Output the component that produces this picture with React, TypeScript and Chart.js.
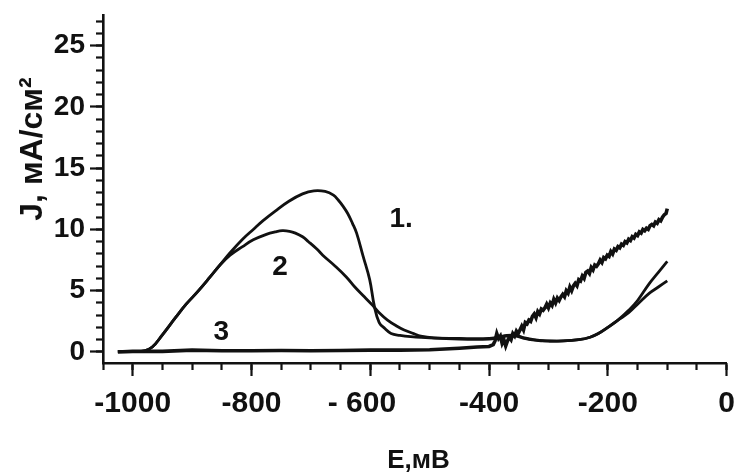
import React, { useEffect, useRef } from 'react';
import { Chart, registerables } from 'chart.js';

Chart.register(...registerables);

// Curve 1
const curve1X = [-1025, -1000, -980, -967, -950, -928, -910, -891, -870, -853, -836, -815, -797, -781, -760, -737, -714, -695, -676, -662, -654, -646, -638, -630, -623, -612, -601, -593, -585, -575, -565, -550, -532, -500, -450, -400, -385, -370, -355, -344, -325, -306, -275, -249, -230, -216, -200, -183, -165, -150, -130, -115, -100];
const curve1Y = [0.05, 0.05, 0.1, 0.4, 1.4, 2.8, 3.9, 4.9, 6.1, 7.1, 8.1, 9.2, 10.0, 10.7, 11.5, 12.3, 12.9, 13.15, 13.1, 12.8, 12.4, 11.9, 11.3, 10.5, 9.7, 7.8, 5.9, 3.7, 2.4, 1.9, 1.5, 1.35, 1.25, 1.15, 1.1, 1.1, 1.2, 1.35, 1.35, 1.2, 1.0, 0.9, 0.9, 1.0, 1.2, 1.5, 2.0, 2.6, 3.4, 4.2, 5.6, 6.5, 7.4];

// Curve 2
const curve2X = [-1025, -1000, -980, -967, -950, -928, -910, -891, -870, -853, -836, -815, -797, -775, -760, -748, -736, -726, -714, -704, -690, -680, -659, -640, -626, -610, -596, -585, -571, -555, -543, -527, -515, -493, -450, -400, -385, -370, -355, -344, -320, -300, -275, -249, -230, -216, -200, -183, -165, -150, -130, -115, -100];
const curve2Y = [0.05, 0.05, 0.1, 0.4, 1.4, 2.8, 3.9, 4.9, 6.1, 7.1, 7.9, 8.6, 9.15, 9.6, 9.8, 9.9, 9.85, 9.7, 9.4, 9.0, 8.4, 7.9, 7.0, 6.1, 5.3, 4.5, 3.8, 3.2, 2.6, 2.1, 1.8, 1.5, 1.3, 1.15, 1.05, 1.05, 1.15, 1.3, 1.3, 1.15, 0.95, 0.9, 0.9, 1.0, 1.2, 1.5, 2.0, 2.6, 3.2, 3.9, 4.8, 5.3, 5.8];

// Curve 3 (flat, then noisy rise)
const curve3X = [-1025, -1000, -950, -900, -850, -800, -750, -700, -650, -600, -550, -500, -450, -420, -400, -393,
  -390, -387, -384, -381, -378, -375, -372, -369, -366, -363, -360, -357, -354, -351, -348, -345, -342, -339, -336, -333,
  -330, -327, -324, -321, -318, -315, -312, -309, -306, -303, -300, -297, -294, -291, -288, -285, -282, -279, -276, -273,
  -270, -267, -264, -261, -258, -255, -252, -249, -246, -243, -240, -237, -234, -231, -228, -225, -222, -219, -216, -213,
  -210, -207, -204, -201, -198, -195, -192, -189, -186, -183, -180, -177, -174, -171, -168, -165, -162, -159, -156, -153,
  -150, -147, -144, -141, -138, -135, -132, -129, -126, -123, -120, -117, -114, -111, -108, -105, -102, -100];
const curve3Y = [0.0, 0.05, 0.05, 0.15, 0.1, 0.1, 0.12, 0.1, 0.12, 0.15, 0.15, 0.18, 0.3, 0.4, 0.45, 0.6,
  0.9, 1.5, 1.1, 1.3, 0.7, 1.0, 0.5, 0.9, 1.2, 1.0, 1.5, 1.3, 1.7, 1.5, 1.8, 2.1, 1.8, 2.4, 2.3, 2.6,
  2.5, 2.9, 3.1, 2.8, 3.3, 3.1, 3.5, 3.4, 3.6, 3.9, 3.6, 4.0, 3.8, 4.3, 4.0, 4.4, 4.2, 4.5, 4.7, 4.5,
  5.0, 4.8, 5.3, 5.0, 5.4, 5.6, 5.4, 5.9, 5.8, 6.2, 6.0, 6.5, 6.6, 6.4, 6.9, 6.7, 7.1, 7.0, 7.2, 7.5,
  7.3, 7.7, 7.6, 7.9, 7.8, 8.2, 8.0, 8.4, 8.3, 8.6, 8.5, 8.8, 8.7, 9.0, 8.9, 9.2, 9.1, 9.4, 9.3, 9.6,
  9.5, 9.8, 9.7, 10.0, 9.9, 10.1, 10.0, 10.3, 10.4, 10.3, 10.6, 10.5, 10.8, 10.7, 11.0, 11.2, 11.3, 11.7];

// Axis ticks
const xTickValues = [-1000, -800, -600, -400, -200, 0];
const xTickLabels = ['-1000', '-800', '- 600\u00a0\u00a0', '-400', '-200', '0'];
const yTickValues = [0, 5, 10, 15, 20, 25];
const yTickLabels = ['0', '5', '10', '15', '20', '25'];

// Curve labels (anchored in data coordinates)
const curveLabelText = ['1.', '2', '3'];
const curveLabelX = [-548, -752, -851];
const curveLabelY = [10.8, 6.9, 1.6];

const xTitle = 'E,мВ';
const yTitle = 'J, мА/см²';

const FONT = '"Liberation Sans", Arial, sans-serif';

const pts = (xs: number[], ys: number[]) => xs.map((x, i) => ({ x, y: ys[i] }));

const labelPlugin = {
  id: 'curveLabels',
  afterDatasetsDraw(chart: any) {
    const { ctx } = chart;
    const xs = chart.scales.x;
    const ys = chart.scales.y;
    ctx.save();
    ctx.font = `bold 28px ${FONT}`;
    ctx.fillStyle = '#111';
    ctx.textAlign = 'center';
    ctx.textBaseline = 'middle';
    curveLabelText.forEach((t, i) => {
      ctx.fillText(t, xs.getPixelForValue(curveLabelX[i]), ys.getPixelForValue(curveLabelY[i]));
    });
    ctx.restore();
  },
};

const noPad = (s: any) => {
  s.paddingTop = 0;
  s.paddingBottom = 0;
};

export default function App() {
  const ref = useRef<HTMLCanvasElement>(null);
  useEffect(() => {
    document.body.style.margin = '0';
    const canvas = ref.current!;
    const common = {
      borderColor: '#111',
      pointRadius: 0,
      fill: false,
      xAxisID: 'x',
      yAxisID: 'y',
    };
    const chart = new Chart(canvas, {
      type: 'line',
      data: {
        datasets: [
          { ...common, label: '1', data: pts(curve1X, curve1Y), borderWidth: 2.8, tension: 0.4 },
          { ...common, label: '2', data: pts(curve2X, curve2Y), borderWidth: 2.8, tension: 0.4 },
          { ...common, label: '3', data: pts(curve3X, curve3Y), borderWidth: 3.6, tension: 0 },
        ] as any,
      },
      options: {
        animation: false,
        responsive: false,
        maintainAspectRatio: false,
        layout: { padding: { top: 15, right: 8, left: 0, bottom: 0 } },
        plugins: {
          legend: { display: false },
          tooltip: { enabled: false },
        },
        scales: {
          x: {
            type: 'linear',
            position: 'bottom',
            weight: 1,
            min: -1050,
            max: 0,
            ticks: {
              stepSize: 200,
              includeBounds: false,
              autoSkip: false,
              maxRotation: 0,
              padding: 10,
              color: '#111',
              font: { family: FONT, size: 30, weight: 'bold' },
              callback: (v: any) => {
                const i = xTickValues.indexOf(Number(v));
                return i >= 0 ? xTickLabels[i] : '';
              },
            },
            grid: { drawOnChartArea: false, drawTicks: true, tickLength: 13, tickWidth: 2.2, tickColor: '#111' },
            border: { display: true, color: '#111', width: 2.6 },
            title: {
              display: true,
              text: '\u00a0' + xTitle,
              color: '#111',
              font: { family: FONT, size: 26, weight: 'bold' },
              padding: { top: 0, bottom: -4 },
            },
            afterFit: (s: any) => { s.height = 109; },
          },
          xMinor: {
            type: 'linear',
            position: 'bottom',
            weight: 0,
            min: -1050,
            max: 0,
            ticks: { stepSize: 50, includeBounds: false, display: false },
            grid: { drawOnChartArea: false, drawTicks: true, tickLength: 7, tickWidth: 2.2, tickColor: '#111' },
            border: { display: false },
            afterFit: (s: any) => { s.height = 0; },
          },
          y: {
            type: 'linear',
            position: 'left',
            weight: 1,
            min: -0.9,
            max: 27.5,
            ticks: {
              stepSize: 5,
              includeBounds: false,
              autoSkip: false,
              padding: 5,
              color: '#111',
              font: { family: FONT, size: 28, weight: 'bold' },
              callback: (v: any) => {
                const i = yTickValues.indexOf(Number(v));
                return i >= 0 ? yTickLabels[i] : '';
              },
            },
            grid: { drawOnChartArea: false, drawTicks: true, tickLength: 13, tickWidth: 2.2, tickColor: '#111' },
            border: { display: true, color: '#111', width: 2.6 },
            title: {
              display: true,
              text: '\u00a0'.repeat(9) + yTitle,
              color: '#111',
              font: { family: FONT, size: 32, weight: 'bold' },
              padding: { top: 14, bottom: 0 },
            },
            afterFit: (s: any) => { s.width = 103; noPad(s); },
          },
          yMinor: {
            type: 'linear',
            position: 'left',
            weight: 0,
            min: -0.9,
            max: 27.5,
            ticks: { stepSize: 1, includeBounds: false, display: false },
            grid: { drawOnChartArea: false, drawTicks: true, tickLength: 7, tickWidth: 2.2, tickColor: '#111' },
            border: { display: false },
            afterFit: (s: any) => { s.width = 0; noPad(s); },
          },
        },
      } as any,
      plugins: [labelPlugin],
    });
    return () => chart.destroy();
  }, []);
  return <canvas ref={ref} width={745} height={472} style={{ display: 'block', width: 745, height: 472 }} />;
}
